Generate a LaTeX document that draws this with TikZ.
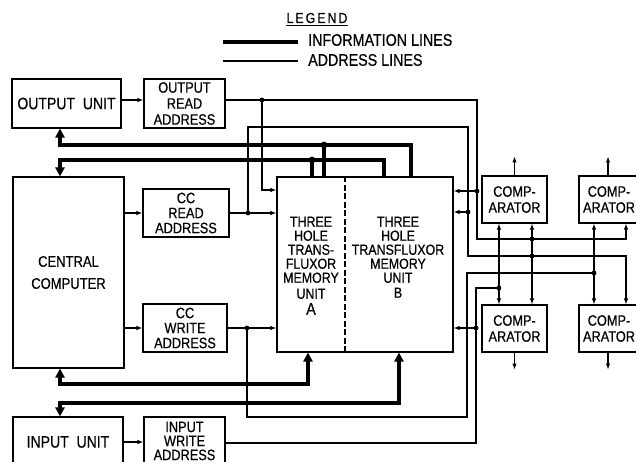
\documentclass[tikz,border=0pt]{standalone}
\usepackage{fontspec}
\setmainfont{Liberation Sans}[FakeStretch=0.85,FakeBold=0.5]
\usetikzlibrary{arrows.meta}
\begin{document}
\begin{tikzpicture}[x=1pt,y=-1pt,
  box/.style={draw,line width=1.1pt,inner sep=0pt,align=center,font=\fontsize{15}{15}\selectfont},
  unitbox/.style={box,font=\fontsize{16.5}{16}\selectfont},
  addr/.style={line width=1.1pt},
  ar/.style={addr,-{Latex[length=6pt,width=4.5pt]}},
  arr2/.style={addr,{Latex[length=6pt,width=4.5pt]}-{Latex[length=6pt,width=4.5pt]}},
  info/.style={line width=3.4pt},
  tipS/.style={-{Triangle[length=9pt,width=9pt]}},
  tipB/.style={{Triangle[length=9pt,width=9pt]}-{Triangle[length=9pt,width=9pt]}},
  memtxt/.style={inner sep=0pt,align=center,font=\fontsize{14.6}{14}\selectfont},
  lgtxt/.style={inner sep=0pt,anchor=west,font=\fontsize{16.8}{16}\selectfont}
]
\useasboundingbox (0,0) rectangle (636,462);

% ---------- legend ----------
\node[inner sep=0pt,font=\fontsize{14.5}{14}\selectfont\addfontfeature{LetterSpace=14}] (legT) at (317,18) {LEGEND};
\draw[addr] ([yshift=-2.5pt]legT.base west) -- ([yshift=-2.5pt]legT.base east);
\coordinate (la1) at (223,42); \coordinate (lb1) at (298,42);
\coordinate (la2) at (223,61); \coordinate (lb2) at (298,61);
\draw[info] (la1) -- (lb1);
\draw[addr] (la2) -- (lb2);
\node[lgtxt] (lt1) at (308,40) {INFORMATION LINES};
\node[lgtxt] (lt2) at (308,60) {ADDRESS LINES};

% ---------- boxes ----------
\node[unitbox,minimum width=109pt,minimum height=49pt] (ou) at (66.5,103.5) {OUTPUT\ \ UNIT};
\node[box,minimum width=81pt,minimum height=49pt,font=\fontsize{15}{16}\selectfont] (ora) at (184.5,103.5) {OUTPUT\\READ\\ADDRESS};
\node[box,minimum width=111pt,minimum height=191pt,font=\fontsize{15.3}{22}\selectfont] (cc) at (68.5,272.5) {CENTRAL\\COMPUTER};
\node[box,minimum width=86pt,minimum height=48pt] (cra) at (186,213) {CC\\READ\\ADDRESS};
\node[box,minimum width=84pt,minimum height=48pt] (cwa) at (185,328) {CC\\WRITE\\ADDRESS};
\node[unitbox,minimum width=110pt,minimum height=50pt] (iu) at (68,442) {INPUT\ \ UNIT};
\node[box,minimum width=81pt,minimum height=48pt,font=\fontsize{15}{14}\selectfont] (iwa) at (184.5,441) {INPUT\\WRITE\\ADDRESS};
\node[box,minimum width=176pt,minimum height=175pt] (mem) at (365,264.5) {};
\draw[addr,dash pattern=on 6pt off 2.5pt] (mem.north -| 345,0) -- (mem.south -| 345,0);
\node[memtxt,anchor=north] (tA) at (311,216.5) {THREE\\HOLE\\TRANS-\\FLUXOR\\MEMORY\\[2pt]UNIT\\[2pt]{\fontsize{17}{16}\selectfont A}};
\node[memtxt,anchor=north] (tB) at (398,216.5) {THREE\\HOLE\\TRANSFLUXOR\\MEMORY\\UNIT\\[1pt]B};
\node[box,minimum width=65pt,minimum height=47pt,font=\fontsize{15}{16}\selectfont] (c1) at (514.5,199.5) {COMP-\\ARATOR};
\node[box,minimum width=60pt,minimum height=47pt,font=\fontsize{15}{16}\selectfont] (c2) at (609,199.5) {COMP-\\ARATOR};
\node[box,minimum width=65pt,minimum height=47pt,font=\fontsize{15}{16}\selectfont] (c3) at (514.5,328.5) {COMP-\\ARATOR};
\node[box,minimum width=60pt,minimum height=47pt,font=\fontsize{15}{16}\selectfont] (c4) at (609,328.5) {COMP-\\ARATOR};

% ---------- junction coordinates ----------
\coordinate (j1) at (262,100);
\coordinate (j2) at (477,191);
\coordinate (j3) at (532,239);
\coordinate (j4) at (248,213);
\coordinate (j5) at (468,212);
\coordinate (j6) at (532,256);
\coordinate (j7) at (247,328);
\coordinate (j8) at (594,273);
\coordinate (j9) at (476,328);
\coordinate (j10) at (499,288);
\coordinate (t1) at (324,145);
\coordinate (t2) at (312,160);

% ---------- address lines ----------
\draw[ar] (ou.east |- j1) -- (ora.west |- j1);
\draw[ar] (ora.east |- j1) -- (477,100) -- (477,239) -- (626,239) -- (c2.south -| 626,0);
\draw[ar] (j1) -- (262,190) -- (mem.west |- 0,190);
\draw[ar] (j2) -- (mem.east |- j2);

\draw[ar] (cc.east |- cra) -- (cra.west);
\draw[ar] (cra.east) -- (mem.west |- cra);
\draw[ar] (j4) -- (248,127) -- (468,127) -- (468,256) -- (626,256) -- (c4.north -| 626,0);
\draw[ar] (j5) -- (mem.east |- j5);

\draw[ar] (cc.east |- cwa) -- (cwa.west);
\draw[ar] (cwa.east) -- (mem.west |- cwa);
\draw[addr] (j7) -- (247,417) -- (467,417) -- (467,273) -- (j8);

\draw[ar] (iu.east |- 0,442) -- (iwa.west |- 0,442);
\draw[addr] (iwa.east |- 0,443) -- (476,443) -- (476,288) -- (j10);
\draw[ar] (j9) -- (mem.east |- j9);

\draw[arr2] (c1.south -| 499,0) -- (c3.north -| 499,0);
\draw[arr2] (c1.south -| 532,0) -- (c3.north -| 532,0);
\draw[arr2] (c2.south -| 594,0) -- (c4.north -| 594,0);

\draw[ar] (c1.north) -- ++(0,-19);
\draw[ar] (c2.north -| 608,0) -- ++(0,-19);
\draw[ar] (c3.south) -- ++(0,17);
\draw[ar] (c4.south -| 608,0) -- ++(0,17);

\foreach \p in {j1,j2,j3,j4,j5,j6,j7,j8,j9,j10} \fill (\p) circle (2.4pt);

% ---------- information lines ----------
\draw[info,tipS] (mem.north -| 411,0) -- (411,145) -- (60,145) -- (ou.south -| 60,0);
\draw[info] (t1) -- (mem.north -| t1);
\draw[info,tipS] (mem.north -| 384,0) -- (384,160) -- (60,160) -- (cc.north -| 60,0);
\draw[info] (t2) -- (mem.north -| t2);
\draw[info,tipB] (cc.south -| 60,0) -- (60,384) -- (308,384) -- (mem.south -| 308,0);
\draw[info,tipB] (iu.north -| 60,0) -- (60,403) -- (399,403) -- (mem.south -| 399,0);
\fill (t1) circle (3.4pt);
\fill (t2) circle (3.4pt);
\end{tikzpicture}
\end{document}
